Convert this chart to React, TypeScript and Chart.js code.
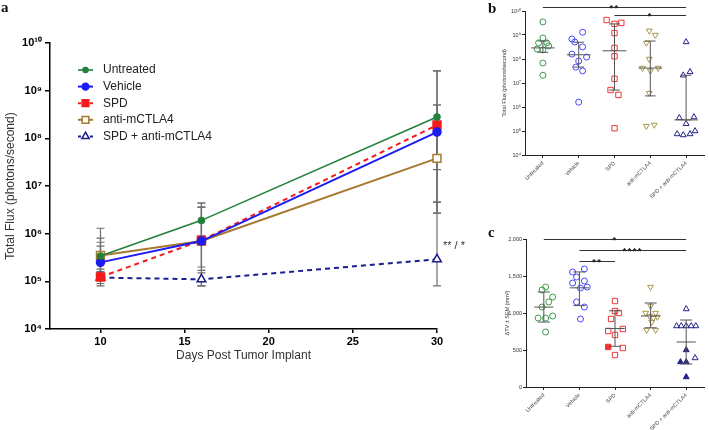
import React, { useEffect, useRef } from 'react';
import { Chart, registerables } from 'chart.js';

Chart.register(...registerables);

const FONT = 'Arial, "Liberation Sans", Helvetica, sans-serif';
Chart.defaults.font.family = FONT;

// ---------------- shared ----------------
const groupNames = ['Untreated', 'Vehicle', 'SPD', 'anti-mCTLA4', 'SPD + anti-mCTLA4'];
const yTicksLogA = [1e4, 1e5, 1e6, 1e7, 1e8, 1e9, 1e10];
const yTicksLogB = [1e4, 1e5, 1e6, 1e7, 1e8, 1e9, 1e10];

// ---------------- panel a ----------------
const daysA = [10, 16, 30];
const xTicksA = [10, 15, 20, 25, 30];
const untreatedA = [3.4e5, 1.9e6, 2.8e8];
const vehicleA = [2.5e5, 7.0e5, 1.35e8];
const spdA = [1.23e5, 7.2e5, 1.9e8];
const antiA = [3.5e5, 7.0e5, 3.8e7];
const comboA = [1.2e5, 1.1e5, 2.9e5];
const untreatedLoA = [1.6e5, 9.0e5, 4.6e6];
const untreatedHiA = [1.3e6, 4.4e6, 2.6e9];
const vehicleLoA = [1.2e5, 1.7e5, 2.7e6];
const vehicleHiA = [6.6e5, 3.6e6, 5.0e8];
const spdLoA = [9.0e4, 8.0e4, 2.2e7];
const spdHiA = [5.5e5, 4.4e6, 2.6e9];
const antiLoA = [1.5e5, 2.0e5, 2.7e6];
const antiHiA = [8.1e5, 3.6e6, 5.0e8];
const comboLoA = [8.0e4, 8.0e4, 8.0e4];
const comboHiA = [1.8e5, 1.5e5, 4.6e6];
const annotationA = '** / *';

// ---------------- panel b ----------------
const untreatedB = [3.5e9, 7.5e8, 4.7e8, 4.7e8, 2.6e8, 2.4e8, 3.5e8, 6.8e7, 2.1e7];
const untreatedJitB = [0, 0, -0.12, 0.11, -0.16, 0, 0.16, 0, 0];
const vehicleB = [1.3e9, 6.8e8, 5.1e8, 3.2e8, 1.6e8, 8.3e7, 1.2e8, 4.6e7, 3.2e7, 1.6e6];
const vehicleJitB = [0.11, -0.19, -0.11, 0.11, -0.19, 0, 0.22, -0.08, 0.11, 0];
const spdB = [4.2e9, 2.9e9, 3.2e9, 1.2e9, 2.9e8, 1.3e8, 1.5e7, 5.1e6, 3.2e6, 1.3e5];
const spdJitB = [-0.22, 0, 0.19, 0, 0, 0, 0, -0.11, 0.11, 0];
const antiB = [1.5e9, 1.0e9, 4.7e8, 1.0e8, 4.2e7, 3.2e7, 4.2e7, 3.8e6, 1.6e5, 1.8e5];
const antiJitB = [-0.03, 0.14, -0.11, -0.03, -0.22, 0, 0.22, -0.03, -0.11, 0.11];
const comboB = [5.1e8, 2.1e7, 2.9e7, 3.5e5, 3.8e5, 2.0e5, 7.5e4, 6.8e4, 7.5e4, 1.0e5];
const comboJitB = [0, -0.08, 0.11, -0.19, 0.22, 0, -0.25, -0.08, 0.11, 0.25];
const medianB = [2.9e8, 1.5e8, 2.2e8, 4.2e7, 2.9e5];
const q1B = [1.9e8, 4.6e7, 5.1e6, 2.9e6, 2.9e5];
const q3B = [5.6e8, 5.0e8, 2.9e9, 5.6e8, 2.1e7];
const sigFromB = [0, 2];
const sigToB = [4, 4];
const sigLevelB = [1.5e10, 6.8e9];
const sigTextB = ['**', '*'];

// ---------------- panel c ----------------
const untreatedC = [1311, 1351, 1216, 1149, 1081, 932, 932, 959, 743];
const untreatedJitC = [-0.05, 0.05, 0.25, 0.14, -0.05, -0.16, 0.05, 0.25, 0.05];
const vehicleC = [1554, 1595, 1486, 1405, 1432, 1338, 1351, 1149, 1081, 919];
const vehicleJitC = [-0.19, 0.14, -0.08, -0.19, 0.14, 0.03, 0.22, -0.08, 0.14, 0.03];
const spdC = [1162, 1027, 1000, 919, 757, 703, 784, 541, 527, 432];
const spdJitC = [0, 0, 0.11, -0.11, -0.19, 0, 0.22, -0.19, 0.22, 0];
const spdFilledC = [false, false, false, false, false, false, false, true, false, false];
const antiC = [1351, 1095, 1000, 1000, 959, 932, 946, 878, 770, 770];
const antiJitC = [0, 0, -0.14, 0.14, -0.03, 0.08, 0.19, 0.03, -0.11, 0.14];
const comboC = [1054, 824, 824, 824, 824, 824, 500, 392, 338, 338, 135];
const comboJitC = [0, -0.27, -0.14, 0, 0.14, 0.27, 0, 0.25, -0.16, 0, 0];
const comboFilledC = [false, false, false, false, false, false, true, false, true, true, true];
const meanC = [1080, 1340, 790, 960, 608];
const loC = [878, 1100, 550, 800, 311];
const hiC = [1284, 1555, 1030, 1135, 905];
const yTicksC = [0, 500, 1000, 1500, 2000];
const sigFromC = [0, 1, 1];
const sigToC = [4, 4, 2];
const sigLevelC = [2000, 1850, 1700];
const sigTextC = ['*', '****', '**'];

// ---------------- helpers ----------------
const SUP: Record<string, string> = { '0': '⁰', '1': '¹', '2': '²', '3': '³', '4': '⁴', '5': '⁵', '6': '⁶', '7': '⁷', '8': '⁸', '9': '⁹' };
const pow10Label = (v: number) => '10' + String(Math.round(Math.log10(v))).split('').map((c) => SUP[c]).join('');

function drawMarker(ctx: any, style: string, x: number, y: number, r: number, color: string, fill: boolean) {
  ctx.save();
  ctx.setLineDash([]);
  ctx.beginPath();
  if (style === 'circle') {
    ctx.arc(x, y, r, 0, Math.PI * 2);
  } else if (style === 'rect') {
    const h = r * Math.SQRT1_2;
    ctx.rect(x - h, y - h, 2 * h, 2 * h);
  } else {
    ctx.moveTo(x, y - r);
    ctx.lineTo(x + r * 0.866, y + r * 0.5);
    ctx.lineTo(x - r * 0.866, y + r * 0.5);
    ctx.closePath();
  }
  ctx.fillStyle = fill ? color : '#ffffff';
  ctx.fill();
  ctx.strokeStyle = color;
  ctx.lineWidth = 1.5;
  ctx.stroke();
  ctx.restore();
}

const GREEN_A = '#23813c';
const BLUE_A = '#1c1cf2';
const RED_A = '#f21a1a';
const BROWN_A = '#a8782f';
const NAVY_A = '#1d1d90';

const seriesA = [
  { label: groupNames[0], data: untreatedA, lo: untreatedLoA, hi: untreatedHiA, color: GREEN_A, dash: [], style: 'circle', r: 3, fill: true, width: 1.6 },
  { label: groupNames[1], data: vehicleA, lo: vehicleLoA, hi: vehicleHiA, color: BLUE_A, dash: [], style: 'circle', r: 4, fill: true, width: 2 },
  { label: groupNames[2], data: spdA, lo: spdLoA, hi: spdHiA, color: RED_A, dash: [5, 4], style: 'rect', r: 5.6, fill: true, width: 2 },
  { label: groupNames[3], data: antiA, lo: antiLoA, hi: antiHiA, color: BROWN_A, dash: [], style: 'rect', r: 5.6, fill: false, width: 2 },
  { label: groupNames[4], data: comboA, lo: comboLoA, hi: comboHiA, color: NAVY_A, dash: [5, 4], style: 'triangle', r: 5, fill: false, width: 2 },
];

function makeA(canvas: HTMLCanvasElement) {
  const errorBars = {
    id: 'errorBarsA',
    beforeDatasetsDraw(chart: any) {
      const { ctx, scales } = chart;
      const x = scales.x, y = scales.y;
      ctx.save();
      ctx.strokeStyle = '#6e6e6e';
      ctx.lineWidth = 1.2;
      seriesA.forEach((s) => {
        daysA.forEach((d, i) => {
          const px = x.getPixelForValue(d);
          const yl = y.getPixelForValue(s.lo[i]);
          const yh = y.getPixelForValue(s.hi[i]);
          ctx.beginPath();
          ctx.moveTo(px, yl); ctx.lineTo(px, yh);
          ctx.moveTo(px - 4, yl); ctx.lineTo(px + 4, yl);
          ctx.moveTo(px - 4, yh); ctx.lineTo(px + 4, yh);
          ctx.stroke();
        });
      });
      ctx.restore();
    },
  };
  const legend = {
    id: 'legendA',
    afterDraw(chart: any) {
      const { ctx, chartArea, scales } = chart;
      const x0 = chartArea.left + 28;
      const y0 = chartArea.top + 27;
      seriesA.forEach((s, i) => {
        const yy = y0 + i * 16.6;
        ctx.save();
        ctx.strokeStyle = s.color;
        ctx.lineWidth = s.width;
        ctx.setLineDash(s.dash.length ? [3, 3] : []);
        ctx.beginPath();
        ctx.moveTo(x0, yy); ctx.lineTo(x0 + 15, yy);
        ctx.stroke();
        ctx.restore();
        drawMarker(ctx, s.style, x0 + 7.5, yy, s.r * 0.85, s.color, s.fill);
        ctx.save();
        ctx.fillStyle = '#222';
        ctx.font = '12px ' + FONT;
        ctx.textBaseline = 'middle';
        ctx.textAlign = 'left';
        ctx.fillText(s.label, x0 + 25, yy);
        ctx.restore();
      });
      // significance note next to the last combo point
      const px = scales.x.getPixelForValue(daysA[2]);
      const py = scales.y.getPixelForValue(comboA[2]);
      ctx.save();
      ctx.fillStyle = '#333';
      ctx.font = '11px ' + FONT;
      ctx.textBaseline = 'middle';
      ctx.fillText(annotationA, px + 6, py - 13);
      ctx.restore();
    },
  };
  return new Chart(canvas, {
    type: 'line',
    data: {
      datasets: seriesA.map((s) => ({
        label: s.label,
        data: daysA.map((d, i) => ({ x: d, y: s.data[i] })),
        borderColor: s.color,
        backgroundColor: s.fill ? s.color : '#ffffff',
        borderWidth: s.width,
        borderDash: s.dash,
        pointStyle: s.style,
        pointRadius: s.r,
        pointBorderColor: s.color,
        pointBackgroundColor: s.fill ? s.color : '#ffffff',
        pointBorderWidth: 1.5,
        tension: 0,
        fill: false,
        clip: false,
      })),
    },
    options: {
      responsive: false,
      animation: false,
      layout: { padding: { left: 0, top: 43, right: 43, bottom: 67 } },
      plugins: { legend: { display: false }, tooltip: { enabled: false } },
      scales: {
        x: {
          type: 'linear',
          min: 7,
          max: 30,
          afterBuildTicks: (s: any) => { s.ticks = xTicksA.map((v) => ({ value: v })); },
          afterFit: (s: any) => { s.height = 34; },
          ticks: { autoSkip: false, maxRotation: 0, color: '#000', padding: 2, font: { size: 11, weight: 'bold' } },
          grid: { display: true, drawOnChartArea: false, drawTicks: true, tickLength: 4, color: '#000', lineWidth: 1.5 },
          border: { display: true, color: '#000', width: 1.5 },
          title: { display: true, text: 'Days Post Tumor Implant', color: '#333', font: { size: 12 }, padding: { top: 0, bottom: 0 } },
        },
        y: {
          type: 'logarithmic',
          min: 1e4,
          max: 1e10,
          afterBuildTicks: (s: any) => { s.ticks = yTicksLogA.map((v) => ({ value: v })); },
          afterFit: (s: any) => { s.width = 50; },
          ticks: { autoSkip: false, color: '#000', padding: 3, font: { size: 11, weight: 'bold' }, callback: (v: any) => pow10Label(Number(v)) },
          grid: { display: true, drawOnChartArea: false, drawTicks: true, tickLength: 5, color: '#000', lineWidth: 1.5 },
          border: { display: true, color: '#000', width: 1.5 },
          title: { display: true, text: 'Total Flux (photons/second)', color: '#333', font: { size: 12 }, padding: { top: 3, bottom: 0 } },
        },
      },
    },
    plugins: [errorBars, legend],
  } as any);
}

// ---------------- b / c common ----------------
const GREEN = '#3c9a48';
const BLUE = '#4646ff';
const RED = '#ef3434';
const OLIVE = '#a8974a';
const NAVY = '#23238c';
const CLEAR = 'rgba(255,255,255,0)';

function catXScale(h: number) {
  return {
    type: 'linear',
    min: -0.5,
    max: 4.5,
    afterBuildTicks: (s: any) => { s.ticks = groupNames.map((_, i) => ({ value: i })); },
    afterFit: (s: any) => { s.height = h; },
    ticks: {
      autoSkip: false, minRotation: 45, maxRotation: 45, padding: 2, color: '#444',
      font: { size: 5.5 },
      callback: (v: any) => groupNames[Math.round(Number(v))] ?? '',
    },
    grid: { display: true, drawOnChartArea: false, drawTicks: true, tickLength: 3, color: '#222', lineWidth: 1 },
    border: { display: true, color: '#222', width: 1 },
  };
}

function summaryPlugin(id: string, mid: number[], lo: number[], hi: number[], midHalf: number, capHalf: number) {
  return {
    id,
    afterDatasetsDraw(chart: any) {
      const { ctx, scales } = chart;
      const x = scales.x, y = scales.y;
      ctx.save();
      ctx.strokeStyle = '#555';
      ctx.lineWidth = 1;
      mid.forEach((m, i) => {
        const cx = x.getPixelForValue(i);
        const wm = x.getPixelForValue(i + midHalf) - cx;
        const wc = x.getPixelForValue(i + capHalf) - cx;
        const ym = y.getPixelForValue(m);
        const yl = y.getPixelForValue(lo[i]);
        const yh = y.getPixelForValue(hi[i]);
        ctx.beginPath();
        ctx.moveTo(cx, yl); ctx.lineTo(cx, yh);
        ctx.moveTo(cx - wc, yl); ctx.lineTo(cx + wc, yl);
        ctx.moveTo(cx - wc, yh); ctx.lineTo(cx + wc, yh);
        ctx.moveTo(cx - wm, ym); ctx.lineTo(cx + wm, ym);
        ctx.stroke();
      });
      ctx.restore();
    },
  };
}

function sigPlugin(id: string, from: number[], to: number[], level: number[], text: string[]) {
  return {
    id,
    afterDraw(chart: any) {
      const { ctx, scales } = chart;
      const x = scales.x, y = scales.y;
      ctx.save();
      ctx.strokeStyle = '#333';
      ctx.fillStyle = '#222';
      ctx.lineWidth = 1;
      ctx.font = 'bold 9px ' + FONT;
      ctx.textAlign = 'center';
      ctx.textBaseline = 'alphabetic';
      try { (ctx as any).letterSpacing = '1.5px'; } catch (e) { /* ignore */ }
      from.forEach((f, i) => {
        const x1 = x.getPixelForValue(f);
        const x2 = x.getPixelForValue(to[i]);
        const yy = Math.round(y.getPixelForValue(level[i])) + 0.5;
        ctx.beginPath();
        ctx.moveTo(x1, yy); ctx.lineTo(x2, yy);
        ctx.stroke();
        ctx.fillText(text[i], (x1 + x2) / 2, yy + 3);
      });
      ctx.restore();
    },
  };
}

function scatterDataset(vals: number[], jit: number[], gi: number, color: string, style: string, r: number, rot: number, filled?: boolean[]) {
  return {
    type: 'scatter',
    data: vals.map((v, k) => ({ x: gi + jit[k], y: v })),
    showLine: false,
    pointStyle: style,
    pointRotation: rot,
    pointRadius: r,
    pointBorderWidth: 1,
    pointBorderColor: color,
    pointBackgroundColor: filled ? filled.map((f) => (f ? color : CLEAR)) : CLEAR,
    clip: false,
  };
}

function makeB(canvas: HTMLCanvasElement) {
  return new Chart(canvas, {
    type: 'scatter',
    data: {
      datasets: [
        scatterDataset(untreatedB, untreatedJitB, 0, GREEN, 'circle', 3, 0),
        scatterDataset(vehicleB, vehicleJitB, 1, BLUE, 'circle', 3, 0),
        scatterDataset(spdB, spdJitB, 2, RED, 'rect', 3.8, 0),
        scatterDataset(antiB, antiJitB, 3, OLIVE, 'triangle', 3.4, 180),
        scatterDataset(comboB, comboJitB, 4, NAVY, 'triangle', 3.4, 0),
      ],
    },
    options: {
      responsive: false,
      animation: false,
      layout: { padding: { left: 0, top: 11, right: 1.5, bottom: 0 } },
      plugins: { legend: { display: false }, tooltip: { enabled: false } },
      scales: {
        x: catXScale(60),
        y: {
          type: 'logarithmic',
          min: 1e4,
          max: 1e10,
          afterBuildTicks: (s: any) => { s.ticks = yTicksLogB.map((v) => ({ value: v })); },
          afterFit: (s: any) => { s.width = 35; },
          ticks: { autoSkip: false, color: '#333', padding: 1, font: { size: 5.5 }, callback: (v: any) => pow10Label(Number(v)) },
          grid: { display: true, drawOnChartArea: false, drawTicks: true, tickLength: 3, color: '#222', lineWidth: 1 },
          border: { display: true, color: '#222', width: 1 },
          title: { display: true, text: 'Total Flux (photons/second)', color: '#333', font: { size: 5.5 }, padding: { top: 11.5, bottom: 0 } },
        },
      },
    },
    plugins: [summaryPlugin('sumB', medianB, q1B, q3B, 0.33, 0.15), sigPlugin('sigB', sigFromB, sigToB, sigLevelB, sigTextB)],
  } as any);
}

function makeC(canvas: HTMLCanvasElement) {
  return new Chart(canvas, {
    type: 'scatter',
    data: {
      datasets: [
        scatterDataset(untreatedC, untreatedJitC, 0, GREEN, 'circle', 3, 0),
        scatterDataset(vehicleC, vehicleJitC, 1, BLUE, 'circle', 3, 0),
        scatterDataset(spdC, spdJitC, 2, RED, 'rect', 3.8, 0, spdFilledC),
        scatterDataset(antiC, antiJitC, 3, OLIVE, 'triangle', 3.4, 180),
        scatterDataset(comboC, comboJitC, 4, NAVY, 'triangle', 3.4, 0, comboFilledC),
      ],
    },
    options: {
      responsive: false,
      animation: false,
      layout: { padding: { left: 0, top: 24, right: 1.5, bottom: 0 } },
      plugins: { legend: { display: false }, tooltip: { enabled: false } },
      scales: {
        x: catXScale(43),
        y: {
          type: 'linear',
          min: 0,
          max: 2000,
          afterBuildTicks: (s: any) => { s.ticks = yTicksC.map((v) => ({ value: v })); },
          afterFit: (s: any) => { s.width = 36; },
          ticks: { autoSkip: false, color: '#333', padding: 1, font: { size: 5.5 }, callback: (v: any) => Number(v).toLocaleString('en-US') },
          grid: { display: true, drawOnChartArea: false, drawTicks: true, tickLength: 3, color: '#222', lineWidth: 1 },
          border: { display: true, color: '#222', width: 1 },
          title: { display: true, text: 'ΔTV ± SEM (mm³)', color: '#333', font: { size: 5.5 }, padding: { top: 14.5, bottom: 0 } },
        },
      },
    },
    plugins: [summaryPlugin('sumC', meanC, loC, hiC, 0.27, 0.17), sigPlugin('sigC', sigFromC, sigToC, sigLevelC, sigTextC)],
  } as any);
}

const panelLabel = (left: number, top: number): React.CSSProperties => ({
  position: 'absolute',
  left,
  top,
  fontFamily: '"Liberation Serif", "Times New Roman", serif',
  fontWeight: 'bold',
  fontSize: 15,
  lineHeight: '15px',
  color: '#111',
});

export default function App() {
  const refA = useRef<HTMLCanvasElement>(null);
  const refB = useRef<HTMLCanvasElement>(null);
  const refC = useRef<HTMLCanvasElement>(null);
  useEffect(() => {
    const charts = [makeA(refA.current!), makeB(refB.current!), makeC(refC.current!)];
    return () => charts.forEach((c) => c.destroy());
  }, []);
  return (
    <div style={{ position: 'absolute', left: 0, top: 0, width: 709, height: 430, background: '#fff', overflow: 'hidden' }}>
      <canvas ref={refA} width={480} height={430} style={{ position: 'absolute', left: 0, top: 0 }} />
      <canvas ref={refB} width={219} height={215} style={{ position: 'absolute', left: 490, top: 0 }} />
      <canvas ref={refC} width={219} height={215} style={{ position: 'absolute', left: 490, top: 215 }} />
      <div style={panelLabel(1, 0)}>a</div>
      <div style={panelLabel(488, 1)}>b</div>
      <div style={panelLabel(488, 225)}>c</div>
    </div>
  );
}
